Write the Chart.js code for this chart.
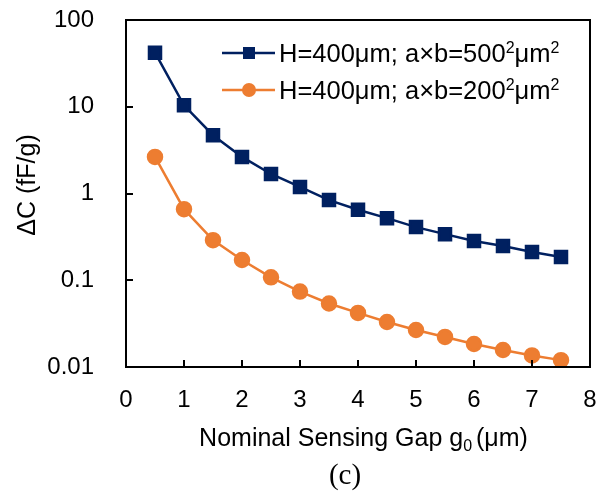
<!DOCTYPE html>
<html>
<head>
<meta charset="utf-8">
<script src="https://cdn.jsdelivr.net/npm/chart.js@4"></script>
<style>
  html, body { margin: 0; padding: 0; background: #fff; }
  #wrap { width: 601px; height: 491px; }
</style>
</head>
<body>
<div id="wrap"><canvas id="chart" width="601" height="491"></canvas></div>
<script>
// data
const gaps = [0.5, 1, 1.5, 2, 2.5, 3, 3.5, 4, 4.5, 5, 5.5, 6, 6.5, 7, 7.5];
const dc500 = [42, 10.4, 4.7, 2.64, 1.68, 1.19, 0.84, 0.65, 0.52, 0.41, 0.34, 0.283, 0.248, 0.212, 0.185];
const dc200 = [2.64, 0.66, 0.29, 0.171, 0.108, 0.074, 0.054, 0.042, 0.033, 0.0267, 0.0222, 0.0184, 0.0157, 0.0136, 0.012];
const yTicks = [0.01, 0.1, 1, 10, 100];
const xTicks = [0, 1, 2, 3, 4, 5, 6, 7, 8];
const legendText = [["H=400μm; a×b=500", "μm"], ["H=400μm; a×b=200", "μm"]];

const navy = "#002060";
const orange = "#ED7D31";
const FONT = "Liberation Sans, Arial, sans-serif";

// draws box, inner tick marks, titles and the legend
const decor = {
  id: "decor",
  afterDraw(chart) {
    const ctx = chart.ctx;
    const a = chart.chartArea;
    const xs = chart.scales.x, ys = chart.scales.y;
    ctx.save();
    ctx.strokeStyle = "#000";
    ctx.lineWidth = 2;
    ctx.strokeRect(a.left, a.top, a.right - a.left, a.bottom - a.top);
    ctx.beginPath();
    xTicks.forEach(v => {
      const px = Math.round(xs.getPixelForValue(v));
      ctx.moveTo(px, a.bottom); ctx.lineTo(px, a.bottom - 7);
    });
    yTicks.forEach(v => {
      const py = Math.round(ys.getPixelForValue(v));
      ctx.moveTo(a.left, py); ctx.lineTo(a.left + 7, py);
    });
    ctx.stroke();

    // x title with subscript
    ctx.fillStyle = "#000";
    ctx.textBaseline = "alphabetic";
    ctx.textAlign = "left";
    const big = "25px " + FONT, small = "16px " + FONT;
    ctx.font = big;
    const p1 = "Nominal Sensing Gap g", p3 = " (μm)";
    const w1 = ctx.measureText(p1).width, w3 = ctx.measureText(p3).width;
    ctx.font = small;
    const w2 = ctx.measureText("0").width;
    let x0 = 365 - (w1 + w2 + w3) / 2;
    ctx.font = big;
    ctx.fillText(p1, x0, 446);
    ctx.font = small;
    ctx.fillText("0", x0 + w1, 451);
    ctx.font = big;
    ctx.fillText(p3, x0 + w1 + w2 - 3, 446);

    // (c)
    ctx.textAlign = "center";
    ctx.font = "29px Liberation Serif, Times New Roman, serif";
    ctx.fillText("(c)", 345, 484);

    // y title
    ctx.save();
    ctx.translate(35, 185);
    ctx.rotate(-Math.PI / 2);
    ctx.font = big;
    ctx.fillText("ΔC (fF/g)", 0, 0);
    ctx.restore();

    // legend
    chart.data.datasets.forEach((ds, i) => {
      const cy = 53 + i * 37;
      ctx.strokeStyle = ds.borderColor;
      ctx.lineWidth = 2.5;
      ctx.beginPath();
      ctx.moveTo(222, cy); ctx.lineTo(275, cy);
      ctx.stroke();
      ctx.fillStyle = ds.backgroundColor;
      if (ds.pointStyle === "rect") {
        ctx.fillRect(249 - 6, cy - 6, 12, 12);
      } else {
        ctx.beginPath();
        ctx.arc(249, cy, 7, 0, Math.PI * 2);
        ctx.fill();
      }
      ctx.fillStyle = "#000";
      ctx.textAlign = "left";
      let tx = 279;
      const base = cy + 9;
      const parts = legendText[i];
      ctx.font = "25.5px " + FONT;
      ctx.fillText(parts[0], tx, base);
      tx += ctx.measureText(parts[0]).width;
      ctx.font = small;
      ctx.fillText("2", tx, base - 9);
      tx += ctx.measureText("2").width;
      ctx.font = "25.5px " + FONT;
      ctx.fillText(parts[1], tx, base);
      tx += ctx.measureText(parts[1]).width;
      ctx.font = small;
      ctx.fillText("2", tx, base - 9);
    });
    ctx.restore();
  }
};

new Chart(document.getElementById("chart"), {
  type: "line",
  data: {
    datasets: [
      {
        label: "H=400μm; a×b=500²μm²",
        data: gaps.map((g, i) => ({ x: g, y: dc500[i] })),
        borderColor: navy,
        backgroundColor: navy,
        borderWidth: 2.5,
        pointStyle: "rect",
        pointRadius: 8.5,
        pointHoverRadius: 8.5,
        tension: 0
      },
      {
        label: "H=400μm; a×b=200²μm²",
        data: gaps.map((g, i) => ({ x: g, y: dc200[i] })),
        borderColor: orange,
        backgroundColor: orange,
        borderWidth: 2.5,
        pointStyle: "circle",
        pointRadius: 7,
        pointHoverRadius: 7,
        tension: 0
      }
    ]
  },
  options: {
    responsive: false,
    animation: false,
    devicePixelRatio: 1,
    layout: { padding: { top: 20, right: 11, left: 0, bottom: 0 } },
    plugins: { legend: { display: false }, tooltip: { enabled: false } },
    scales: {
      x: {
        type: "linear",
        min: 0,
        max: 8,
        afterBuildTicks: s => { s.ticks = xTicks.map(v => ({ value: v })); },
        afterFit: s => { s.height = 124; s.paddingLeft = 0; s.paddingRight = 0; },
        grid: { display: false },
        border: { display: false },
        ticks: { color: "#000", font: { size: 24, family: FONT }, padding: 11, maxRotation: 0 }
      },
      y: {
        type: "logarithmic",
        min: 0.01,
        max: 100,
        afterBuildTicks: s => { s.ticks = yTicks.map(v => ({ value: v })); },
        afterFit: s => { s.width = 126; s.paddingTop = 0; s.paddingBottom = 0; },
        grid: { display: false },
        border: { display: false },
        ticks: {
          color: "#000",
          font: { size: 24, family: FONT },
          padding: 24,
          callback: v => String(v)
        }
      }
    }
  },
  plugins: [decor]
});
</script>
</body>
</html>
